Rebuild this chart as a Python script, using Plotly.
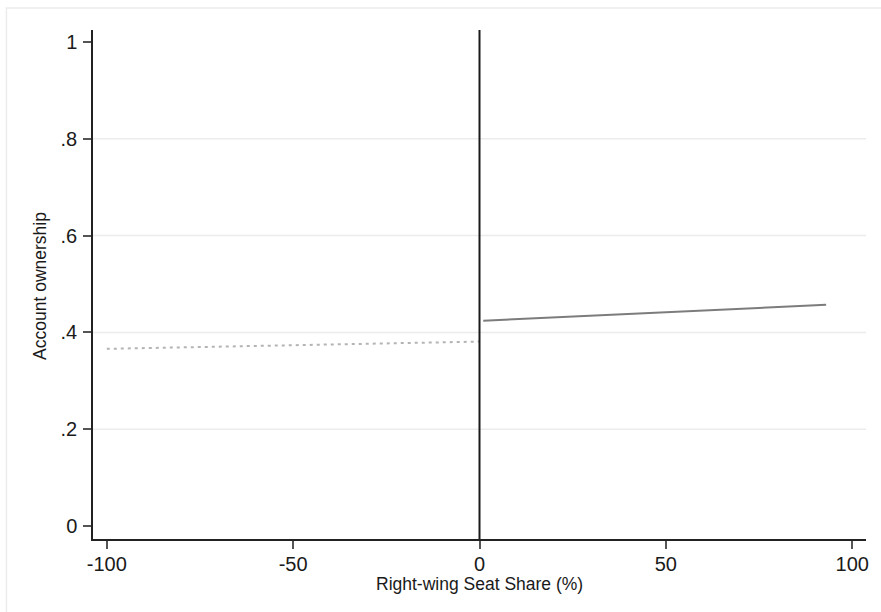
import plotly.graph_objects as go

# Fitted lines on each side of the cutoff
left_x = [-100, 0]
left_y = [0.366, 0.381]
right_x = [1, 93]
right_y = [0.424, 0.457]

y_ticks = [0, 0.2, 0.4, 0.6, 0.8, 1]
y_tick_labels = ["0", ".2", ".4", ".6", ".8", "1"]
x_ticks = [-100, -50, 0, 50, 100]
x_tick_labels = ["-100", "-50", "0", "50", "100"]
grid_levels = [0.2, 0.4, 0.6, 0.8]

x_title = "Right-wing Seat Share (%)"
y_title = "Account ownership"

font_family = "Liberation Sans, Arial, sans-serif"
text_color = "#1a1a1a"

fig = go.Figure()
fig.add_trace(go.Scatter(
    x=left_x, y=left_y, mode="lines",
    line=dict(color="#b4b4b4", width=2, dash="3px,4px"),
    showlegend=False, hoverinfo="skip",
))
fig.add_trace(go.Scatter(
    x=right_x, y=right_y, mode="lines",
    line=dict(color="#7c7c7c", width=2),
    showlegend=False, hoverinfo="skip",
))

shapes = []
for g in grid_levels:
    shapes.append(dict(type="line", xref="paper", x0=0, x1=1, yref="y", y0=g, y1=g,
                       line=dict(color="#ececec", width=1.5), layer="below"))
# cutoff line
shapes.append(dict(type="line", xref="x", x0=0, x1=0, yref="paper", y0=0, y1=1,
                   line=dict(color="#1a1a1a", width=2)))
# outer frame
shapes.append(dict(type="rect", xref="paper", yref="paper",
                   x0=-0.112, x1=1.2, y0=-0.3, y1=1.0432,
                   line=dict(color="#ececec", width=1.5), layer="below"))

annotations = [
    dict(text=x_title, xref="paper", yref="paper", x=0.5, y=-0.0884,
         xanchor="center", yanchor="middle", showarrow=False,
         font=dict(size=17.5, color=text_color)),
    dict(text=y_title, xref="paper", yref="paper", x=-0.0683, y=0.4976,
         xanchor="center", yanchor="middle", showarrow=False, textangle=-90,
         font=dict(size=17.5, color=text_color)),
]

fig.update_layout(
    width=881, height=612,
    margin=dict(l=93, r=12, t=30, b=73),
    paper_bgcolor="white", plot_bgcolor="white",
    font=dict(family=font_family, color=text_color),
    shapes=shapes,
    annotations=annotations,
    xaxis=dict(
        range=[-103.7, 103.7], tickvals=x_ticks, ticktext=x_tick_labels,
        ticks="outside", ticklen=8, tickwidth=1.5, tickcolor="#555555",
        showline=True, linecolor="#222222", linewidth=1.5,
        showgrid=False, zeroline=False,
        tickfont=dict(size=20, color=text_color),
        ticklabelstandoff=-2,
    ),
    yaxis=dict(
        range=[-0.0269, 1.0248], tickvals=y_ticks, ticktext=y_tick_labels,
        ticks="outside", ticklen=8, tickwidth=1.5, tickcolor="#555555",
        showline=True, linecolor="#222222", linewidth=1.5,
        showgrid=False, zeroline=False,
        tickfont=dict(size=20, color=text_color),
        ticklabelstandoff=2,
    ),
)

fig.write_html("out.html")
